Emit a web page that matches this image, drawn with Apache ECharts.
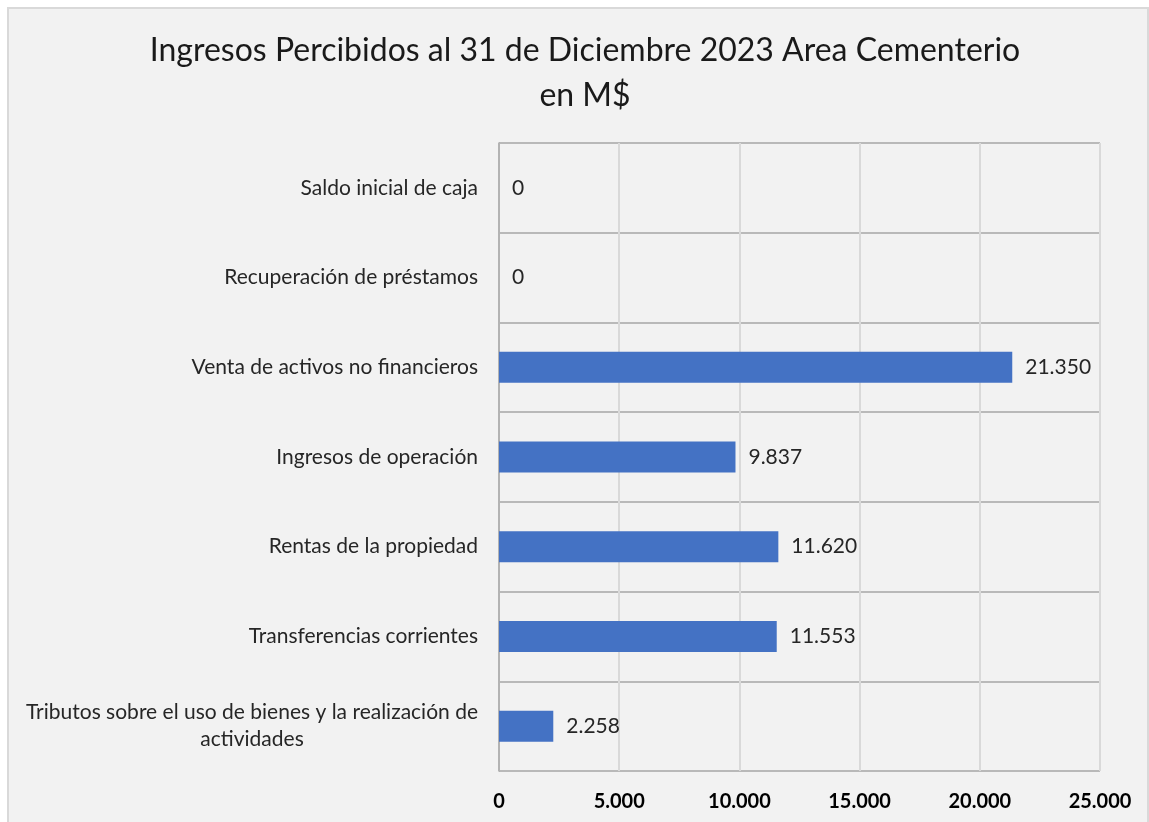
<!DOCTYPE html>
<html>
<head>
<meta charset="utf-8">
<script src="https://cdn.jsdelivr.net/npm/echarts@6/dist/echarts.min.js"></script>
<style>
  html, body { margin: 0; padding: 0; background: #ffffff; }
  #chart {
    position: absolute; left: 7px; top: 7px;
    width: 1138px; height: 820px;
    border: 2px solid #d9d9d9;
    background: #f2f2f2;
  }
</style>
</head>
<body>
<div id="chart"></div>
<script>
// categorias de arriba hacia abajo
var categorias = [
  'Saldo inicial de caja',
  'Recuperación de préstamos',
  'Venta de activos no financieros',
  'Ingresos de operación',
  'Rentas de la propiedad',
  'Transferencias corrientes',
  'Tributos sobre el uso de bienes y la realización de\nactividades'
];
var ingresos = [0, 0, 21350, 9837, 11620, 11553, 2258];
var ticksX = [0, 5000, 10000, 15000, 20000, 25000];

function miles(v) {
  return String(v).replace(/\B(?=(\d{3})+(?!\d))/g, '.');
}

var fuente = 'Lato, "Liberation Sans", sans-serif';
var myChart = echarts.init(document.getElementById('chart'));

var option = {
  backgroundColor: '#f2f2f2',
  title: {
    text: 'Ingresos Percibidos al 31 de Diciembre 2023 Area Cementerio\nen M$',
    left: 571,
    top: 14,
    textAlign: 'center',
    textStyle: {
      fontFamily: fuente,
      fontSize: 32,
      fontWeight: 'normal',
      color: '#1a1a1a',
      lineHeight: 45
    }
  },
  grid: { left: 490, right: 47, top: 134, bottom: 58, containLabel: false },
  xAxis: {
    type: 'value',
    min: ticksX[0],
    max: ticksX[ticksX.length - 1],
    interval: 5000,
    axisLine: { show: false },
    axisTick: { show: false },
    axisLabel: {
      margin: 21,
      fontFamily: fuente,
      fontSize: 20,
      fontWeight: 'bold',
      color: '#000000',
      formatter: miles
    },
    splitLine: { show: true, lineStyle: { color: '#d9d9d9', width: 2 } }
  },
  yAxis: {
    type: 'category',
    inverse: true,
    data: categorias,
    axisLine: { show: true, lineStyle: { color: '#a6a6a6', width: 1.5 } },
    axisTick: { show: false },
    axisLabel: {
      margin: 21,
      fontFamily: fuente,
      fontSize: 21,
      color: '#262626',
      lineHeight: 27,
      formatter: function (v) {
        return v.split('\n').map(function (l) { return '{c|' + l + '}'; }).join('\n');
      },
      rich: { c: { align: 'center', fontFamily: fuente, fontSize: 21, color: '#262626', lineHeight: 27 } }
    },
    splitLine: { show: true, lineStyle: { color: '#a6a6a6', width: 1.5 } }
  },
  series: [{
    type: 'bar',
    data: ingresos,
    barWidth: 31,
    itemStyle: { color: '#4472c4' },
    label: {
      show: true,
      position: 'right',
      distance: 13,
      fontFamily: fuente,
      fontSize: 21,
      color: '#262626',
      formatter: function (p) { return miles(p.value); }
    }
  }]
};
myChart.setOption(option);
window.onresize = myChart.resize;
</script>
</body>
</html>
